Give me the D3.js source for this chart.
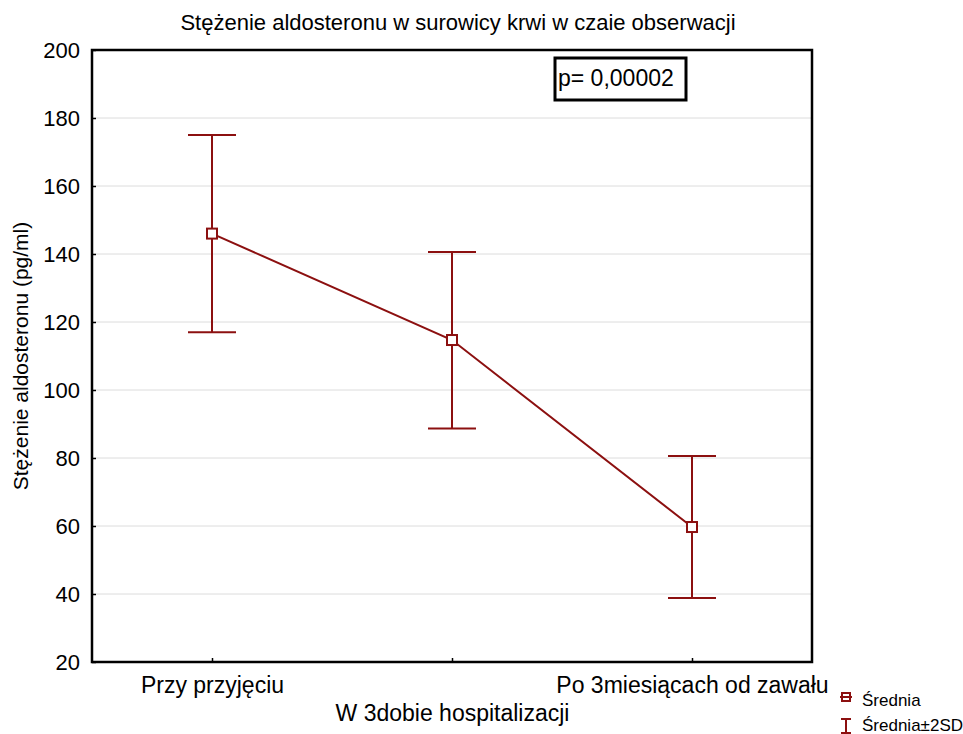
<!DOCTYPE html>
<html>
<head>
<meta charset="utf-8">
<script src="https://cdn.jsdelivr.net/npm/d3@7"></script>
<style>
  body { margin: 0; background: #fff; }
  svg text { font-family: "Liberation Sans", Arial, sans-serif; fill: #000; }
</style>
</head>
<body>
<svg id="chart" width="963" height="734"></svg>
<script>
const categories = ["Przy przyjęciu", "W 3dobie hospitalizacji", "Po 3miesiącach od zawału"];
const means = [146, 114.7, 59.7];
const upper = [175, 140.6, 80.6];
const lower = [117, 88.7, 38.8];
const yTicks = [20, 40, 60, 80, 100, 120, 140, 160, 180, 200];
const title = "Stężenie aldosteronu w surowicy krwi w czaie obserwacji";
const yTitle = "Stężenie aldosteronu (pg/ml)";
const pText = "p= 0,00002";
const legendLabels = ["Średnia", "Średnia±2SD"];

const color = "#8C1010";
const svg = d3.select("#chart");
const L = 92, R = 812, T = 50, B = 662;

const x = d3.scalePoint().domain(categories).range([L, R]).padding(0.5);
const y = d3.scaleLinear().domain([20, 200]).range([B, T]);

// gridlines
svg.append("g").selectAll("line")
  .data(yTicks.filter(d => d > 20 && d < 200))
  .join("line")
  .attr("x1", L).attr("x2", R)
  .attr("y1", d => y(d)).attr("y2", d => y(d))
  .attr("stroke", "#dcdcdc").attr("stroke-width", 1);

// y axis
const yAxis = svg.append("g").attr("transform", `translate(${L},0)`)
  .call(d3.axisLeft(y).tickValues(yTicks).tickSize(-4).tickPadding(12));
yAxis.select(".domain").remove();
yAxis.selectAll(".tick line").attr("stroke", "#000").attr("stroke-width", 1.5);
yAxis.selectAll(".tick text").attr("font-size", 22).attr("font-family", "Liberation Sans, Arial, sans-serif").attr("fill", "#000");

// x axis
const xAxis = svg.append("g").attr("transform", `translate(0,${B})`)
  .call(d3.axisBottom(x).tickSize(-4).tickPadding(0));
xAxis.select(".domain").remove();
xAxis.selectAll(".tick line").attr("stroke", "#000").attr("stroke-width", 1.5);
xAxis.selectAll(".tick text")
  .attr("font-size", 23).attr("font-family", "Liberation Sans, Arial, sans-serif").attr("fill", "#000")
  .attr("dy", null)
  .attr("y", (d, i) => i % 2 === 0 ? 31 : 59);

// frame
svg.append("rect").attr("x", L).attr("y", T).attr("width", R - L).attr("height", B - T)
  .attr("fill", "none").attr("stroke", "#000").attr("stroke-width", 2.5);

// title
svg.append("text").attr("x", 458).attr("y", 30).attr("text-anchor", "middle")
  .attr("font-size", 22).text(title);

// y title
svg.append("text").attr("transform", `translate(28,${(T + B) / 2}) rotate(-90)`)
  .attr("text-anchor", "middle").attr("font-size", 21).text(yTitle);

// error bars
const capW = 24;
const g = svg.append("g");
categories.forEach((c, i) => {
  const cx = x(c);
  g.append("line").attr("x1", cx).attr("x2", cx).attr("y1", y(upper[i])).attr("y2", y(lower[i]))
    .attr("stroke", color).attr("stroke-width", 2);
  [upper[i], lower[i]].forEach(v => {
    g.append("line").attr("x1", cx - capW).attr("x2", cx + capW).attr("y1", y(v)).attr("y2", y(v))
      .attr("stroke", color).attr("stroke-width", 2);
  });
});

// mean line
const line = d3.line().x((d, i) => x(categories[i])).y(d => y(d));
g.append("path").datum(means).attr("d", line).attr("fill", "none")
  .attr("stroke", color).attr("stroke-width", 2);

// markers
g.selectAll("rect.m").data(means).join("rect").attr("class", "m")
  .attr("x", (d, i) => x(categories[i]) - 5).attr("y", d => y(d) - 5)
  .attr("width", 10).attr("height", 10)
  .attr("fill", "#fff").attr("stroke", color).attr("stroke-width", 2);

// p box
svg.append("rect").attr("x", 555).attr("y", 58).attr("width", 131).attr("height", 42)
  .attr("fill", "#fff").attr("stroke", "#000").attr("stroke-width", 3);
svg.append("text").attr("x", 558).attr("y", 86).attr("font-size", 23).text(pText);

// legend
const lg = svg.append("g");
lg.append("line").attr("x1", 840).attr("x2", 852).attr("y1", 697).attr("y2", 697)
  .attr("stroke", color).attr("stroke-width", 2);
lg.append("rect").attr("x", 842).attr("y", 693).attr("width", 8).attr("height", 8)
  .attr("fill", "none").attr("stroke", color).attr("stroke-width", 2);
lg.append("text").attr("x", 862).attr("y", 706).attr("font-size", 17).text(legendLabels[0]);
lg.append("line").attr("x1", 846).attr("x2", 846).attr("y1", 719).attr("y2", 733)
  .attr("stroke", color).attr("stroke-width", 2);
lg.append("line").attr("x1", 841).attr("x2", 851).attr("y1", 719).attr("y2", 719)
  .attr("stroke", color).attr("stroke-width", 2);
lg.append("line").attr("x1", 841).attr("x2", 851).attr("y1", 733).attr("y2", 733)
  .attr("stroke", color).attr("stroke-width", 2);
lg.append("text").attr("x", 862).attr("y", 731).attr("font-size", 17).text(legendLabels[1]);
</script>
</body>
</html>
